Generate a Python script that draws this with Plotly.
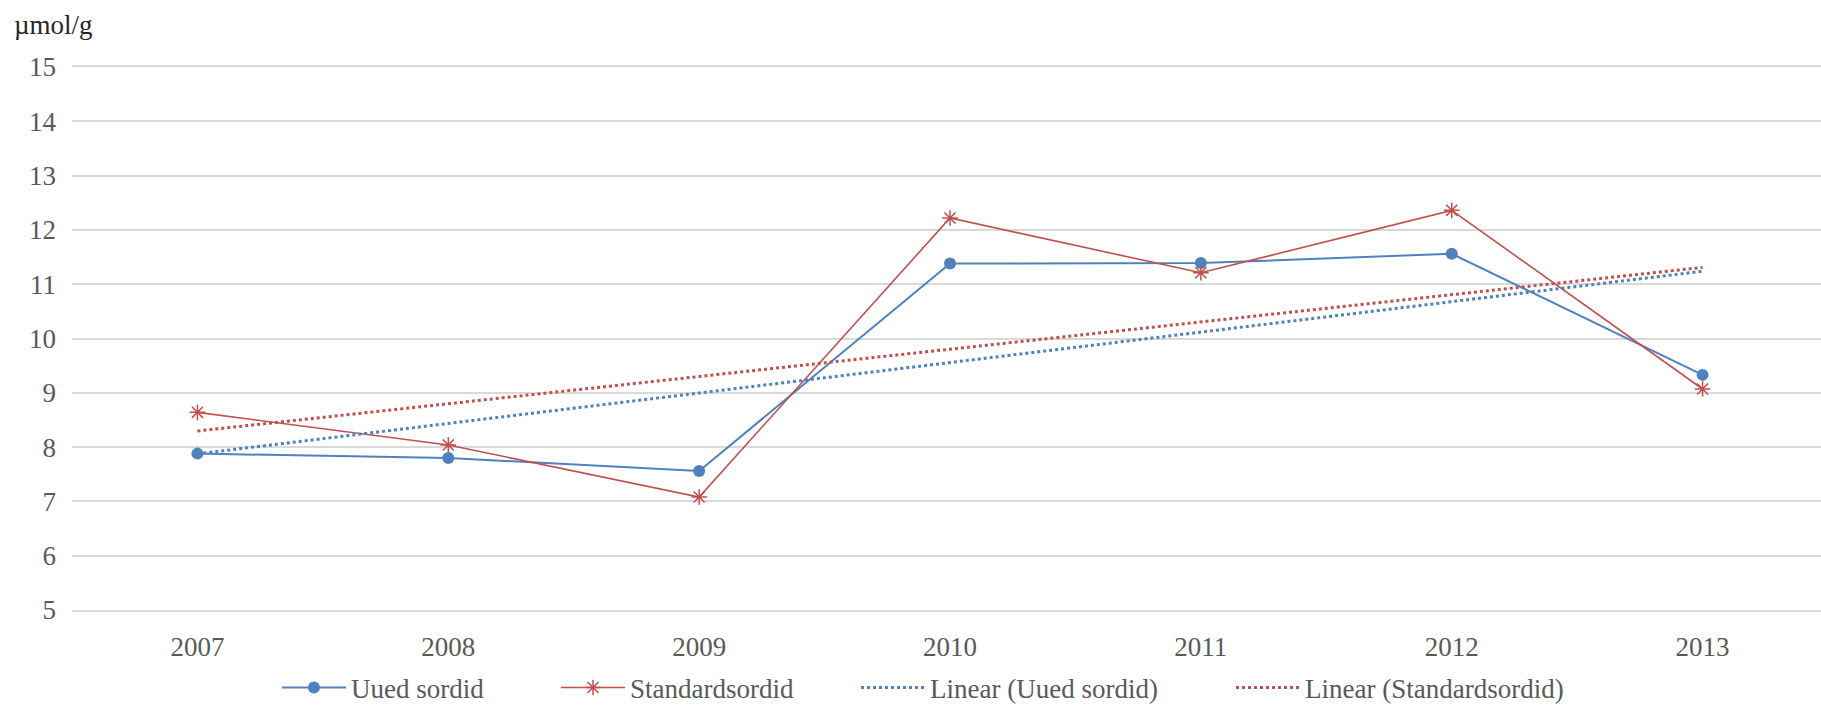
import numpy as np
import plotly.graph_objects as go

# Data
years = ["2007", "2008", "2009", "2010", "2011", "2012", "2013"]
uued_sordid = [7.88, 7.80, 7.56, 11.38, 11.39, 11.56, 9.33]
standardsordid = [8.64, 8.04, 7.08, 12.22, 11.21, 12.36, 9.07]
y_ticks = [5, 6, 7, 8, 9, 10, 11, 12, 13, 14, 15]

BLUE = "#4F81BD"
RED = "#C0504D"
TEXT = "#595959"
GRID = "#D9D9D9"
FONT = "Liberation Serif"

# Least-squares linear trend over the category index
idx = np.arange(len(years))
trend_blue = np.polyval(np.polyfit(idx, uued_sordid, 1), idx)
trend_red = np.polyval(np.polyfit(idx, standardsordid, 1), idx)

fig = go.Figure()
fig.add_trace(go.Scatter(
    x=years, y=uued_sordid, name="Uued sordid", mode="lines+markers",
    line=dict(color=BLUE, width=2),
    marker=dict(symbol="circle", size=12, color=BLUE),
    legend="legend",
))
fig.add_trace(go.Scatter(
    x=years, y=standardsordid, name="Standardsordid", mode="lines+markers",
    line=dict(color=RED, width=1.6),
    marker=dict(symbol="asterisk-open", size=13, color=RED, line=dict(color=RED, width=1.5)),
    legend="legend2",
))
fig.add_trace(go.Scatter(
    x=years, y=trend_blue, name="Linear (Uued sordid)", mode="lines",
    line=dict(color=BLUE, width=3, dash="dot"),
    legend="legend3",
))
fig.add_trace(go.Scatter(
    x=years, y=trend_red, name="Linear (Standardsordid)", mode="lines",
    line=dict(color=RED, width=3, dash="dot"),
    legend="legend4",
))

W, H = 1821, 706
L, R, T, B = 72, 0, 67, 96
pw, ph = W - L - R, H - T - B


def px_x(px):
    return (px - L) / pw


def px_y(py):
    return (H - B - py) / ph


legend_common = dict(
    orientation="h", xanchor="left", yanchor="middle",
    font=dict(family=FONT, size=27, color=TEXT),
    bgcolor="rgba(0,0,0,0)", borderwidth=0, itemwidth=64,
    tracegroupgap=0,
)
legend_x = [277, 556, 856, 1231]
legend_y = px_y(688)
fig.update_layout(
    width=W, height=H,
    margin=dict(l=L, r=R, t=T, b=B, autoexpand=False),
    paper_bgcolor="white", plot_bgcolor="white",
    font=dict(family=FONT, size=27, color=TEXT),
    showlegend=True,
    legend=dict(x=px_x(legend_x[0]), y=legend_y, **legend_common),
    legend2=dict(x=px_x(legend_x[1]), y=legend_y, **legend_common),
    legend3=dict(x=px_x(legend_x[2]), y=legend_y, **legend_common),
    legend4=dict(x=px_x(legend_x[3]), y=legend_y, **legend_common),
    xaxis=dict(
        type="category", range=[-0.5, 6.472],
        showgrid=False, zeroline=False,
        showline=True, mirror=True, linecolor=GRID, linewidth=1.5,
        ticks="", ticklabelstandoff=12, automargin=False,
        tickfont=dict(family=FONT, size=27, color=TEXT),
    ),
    yaxis=dict(
        range=[5, 15], tickvals=y_ticks,
        showgrid=True, gridcolor=GRID, gridwidth=1.5,
        zeroline=False, showline=False, ticks="",
        ticklabelstandoff=15, automargin=False,
        tickfont=dict(family=FONT, size=27, color=TEXT),
    ),
    annotations=[dict(
        text="µmol/g", xref="paper", yref="paper",
        x=px_x(12), y=px_y(25), xanchor="left", yanchor="middle",
        showarrow=False, font=dict(family=FONT, size=27, color="#262626"),
    )],
)

fig.write_html("out.html")
